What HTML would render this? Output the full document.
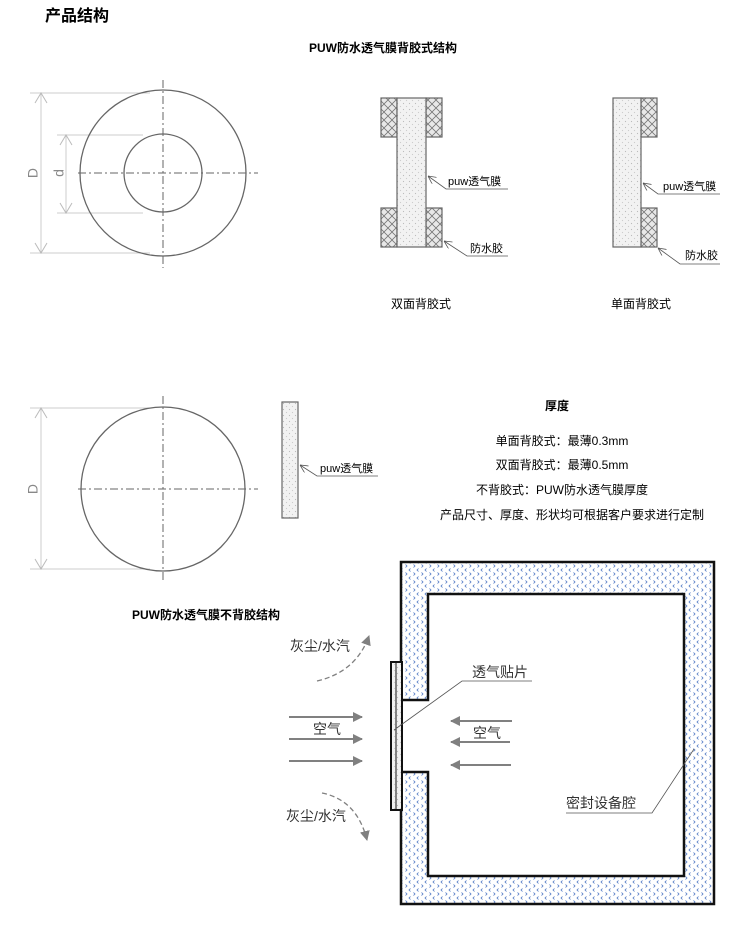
<!DOCTYPE html>
<html><head><meta charset="utf-8"><style>
body{margin:0;background:#fff;}
svg{display:block;font-family:"Liberation Sans","Noto Sans CJK SC",sans-serif;}
</style></head><body>
<svg width="750" height="940" viewBox="0 0 750 940">
<defs>
<pattern id="dots" width="6" height="6" patternUnits="userSpaceOnUse"><rect width="6" height="6" fill="#f2f2f2"/><circle cx="1.5" cy="1.5" r="0.6" fill="#bbb"/><circle cx="4.5" cy="4.5" r="0.6" fill="#ccc"/></pattern>
<pattern id="hatch" width="8" height="8" patternUnits="userSpaceOnUse"><rect width="8" height="8" fill="#e8e8e8"/><path d="M0 0L8 8M8 0L0 8" stroke="#777" stroke-width="0.8"/></pattern>
<pattern id="blue" width="8" height="8" patternUnits="userSpaceOnUse"><rect width="8" height="8" fill="#fff"/><path d="M2.5 0.5l-1.5 1.5L2.5 3.5" stroke="#4f78c4" stroke-width="0.8" fill="none"/><path d="M5.5 4.5l1.5 1.5L5.5 7.5" stroke="#4f78c4" stroke-width="0.8" fill="none"/></pattern>
<marker id="ah" markerWidth="10" markerHeight="10" refX="9" refY="5" orient="auto" markerUnits="userSpaceOnUse"><path d="M0 0L10 5L0 10z" fill="#808080"/></marker>
<marker id="ot" markerWidth="8" markerHeight="8" refX="0" refY="4" orient="auto" markerUnits="userSpaceOnUse"><path d="M8 0L0 4L8 8" fill="none" stroke="#555" stroke-width="0.8"/></marker>
</defs>

<text x="45" y="21" font-size="16" font-weight="bold">产品结构</text>
<text x="383" y="52" font-size="12" font-weight="bold" text-anchor="middle">PUW防水透气膜背胶式结构</text>

<g fill="none">
<line x1="30" y1="93" x2="150" y2="93" stroke="#ccc"/>
<line x1="30" y1="253" x2="150" y2="253" stroke="#ccc"/>
<line x1="57" y1="135" x2="143" y2="135" stroke="#ccc"/>
<line x1="57" y1="213" x2="143" y2="213" stroke="#ccc"/>
<line x1="41" y1="93" x2="41" y2="253" stroke="#ccc"/>
<path d="M35 103L41 93L47 103M35 243L41 253L47 243" stroke="#bbb"/>
<line x1="66" y1="135" x2="66" y2="213" stroke="#ccc"/>
<path d="M60 145L66 135L72 145M60 203L66 213L72 203" stroke="#bbb"/>
<circle cx="163" cy="173" r="83" stroke="#666" stroke-width="1.3"/>
<circle cx="163" cy="173" r="39" stroke="#666" stroke-width="1.3"/>
<line x1="163" y1="80" x2="163" y2="268" stroke="#666" stroke-dasharray="8,3,2,3"/>
<line x1="78" y1="173" x2="258" y2="173" stroke="#666" stroke-dasharray="8,3,2,3"/>
</g>
<text x="34" y="173" font-size="14" fill="#888" transform="rotate(-90 34 173)" text-anchor="middle" dominant-baseline="middle">D</text>
<text x="60" y="173" font-size="14" fill="#888" transform="rotate(-90 60 173)" text-anchor="middle" dominant-baseline="middle">d</text>

<g stroke="#666" stroke-width="1.2">
<rect x="381" y="98" width="16" height="39" fill="url(#hatch)"/>
<rect x="426" y="98" width="16" height="39" fill="url(#hatch)"/>
<rect x="381" y="208" width="16" height="39" fill="url(#hatch)"/>
<rect x="426" y="208" width="16" height="39" fill="url(#hatch)"/>
<rect x="397" y="98" width="29" height="149" fill="url(#dots)"/>
<rect x="641" y="98" width="16" height="39" fill="url(#hatch)"/>
<rect x="641" y="208" width="16" height="39" fill="url(#hatch)"/>
<rect x="613" y="98" width="28" height="149" fill="url(#dots)"/>
<rect x="282" y="402" width="16" height="116" fill="url(#dots)"/>
</g>
<g stroke="#555" stroke-width="0.8" fill="none">
<path d="M428 176L446 189H508" marker-start="url(#ot)"/>
<path d="M444 241L467 256H508" marker-start="url(#ot)"/>
<path d="M643 183L658 194H720" marker-start="url(#ot)"/>
<path d="M658 248L680 264H720" marker-start="url(#ot)"/>
<path d="M300 465L317 476H378" marker-start="url(#ot)"/>
</g>
<g font-size="11">
<text x="448" y="185">puw透气膜</text>
<text x="470" y="252">防水胶</text>
<text x="663" y="190">puw透气膜</text>
<text x="685" y="259">防水胶</text>
<text x="320" y="472">puw透气膜</text>
</g>
<text x="421" y="308" font-size="12" text-anchor="middle">双面背胶式</text>
<text x="641" y="308" font-size="12" text-anchor="middle">单面背胶式</text>

<g fill="none">
<line x1="30" y1="408" x2="150" y2="408" stroke="#ccc"/>
<line x1="30" y1="569" x2="150" y2="569" stroke="#ccc"/>
<line x1="41" y1="408" x2="41" y2="569" stroke="#ccc"/>
<path d="M35 418L41 408L47 418M35 559L41 569L47 559" stroke="#bbb"/>
<circle cx="163" cy="489" r="82" stroke="#666" stroke-width="1.3"/>
<line x1="163" y1="396" x2="163" y2="580" stroke="#666" stroke-dasharray="8,3,2,3"/>
<line x1="78" y1="489" x2="258" y2="489" stroke="#666" stroke-dasharray="8,3,2,3"/>
</g>
<text x="34" y="489" font-size="14" fill="#888" transform="rotate(-90 34 489)" text-anchor="middle" dominant-baseline="middle">D</text>

<text x="557" y="410" font-size="12" font-weight="bold" text-anchor="middle">厚度</text>
<g font-size="12" text-anchor="middle">
<text x="562" y="445">单面背胶式：最薄0.3mm</text>
<text x="562" y="469">双面背胶式：最薄0.5mm</text>
<text x="562" y="494">不背胶式：PUW防水透气膜厚度</text>
<text x="572" y="519">产品尺寸、厚度、形状均可根据客户要求进行定制</text>
</g>
<text x="206" y="619" font-size="12" font-weight="bold" text-anchor="middle">PUW防水透气膜不背胶结构</text>

<path d="M401 562H714V904H401V772H428V876H684V594H428V700H401Z" fill="url(#blue)" stroke="#111" stroke-width="2.5" fill-rule="evenodd"/>
<rect x="391" y="662" width="11" height="148" fill="url(#dots)" stroke="#111" stroke-width="2"/>
<line x1="396" y1="662" x2="396" y2="810" stroke="#111" stroke-width="1"/>
<g stroke="#808080" stroke-width="2" fill="none">
<line x1="289" y1="717" x2="362" y2="717" marker-end="url(#ah)"/>
<line x1="289" y1="739" x2="362" y2="739" marker-end="url(#ah)"/>
<line x1="289" y1="761" x2="362" y2="761" marker-end="url(#ah)"/>
<line x1="512" y1="721" x2="451" y2="721" marker-end="url(#ah)"/>
<line x1="510" y1="742" x2="451" y2="742" marker-end="url(#ah)"/>
<line x1="511" y1="765" x2="451" y2="765" marker-end="url(#ah)"/>
<path d="M317 681Q356 672 369 636" stroke-dasharray="5,3" stroke-width="1.3" marker-end="url(#ah)"/>
<path d="M322 793Q357 800 367 840" stroke-dasharray="5,3" stroke-width="1.3" marker-end="url(#ah)"/>
</g>
<g stroke="#555" stroke-width="0.8" fill="none">
<path d="M394 730L462 681H532"/>
<path d="M694 749L652 813H566"/>
</g>
<g font-size="14" fill="#333">
<text x="290" y="651">灰尘/水汽</text>
<text x="286" y="821">灰尘/水汽</text>
<text x="313" y="734">空气</text>
<text x="473" y="738">空气</text>
<text x="472" y="677">透气贴片</text>
<text x="566" y="808">密封设备腔</text>
</g>
</svg>
</body></html>
